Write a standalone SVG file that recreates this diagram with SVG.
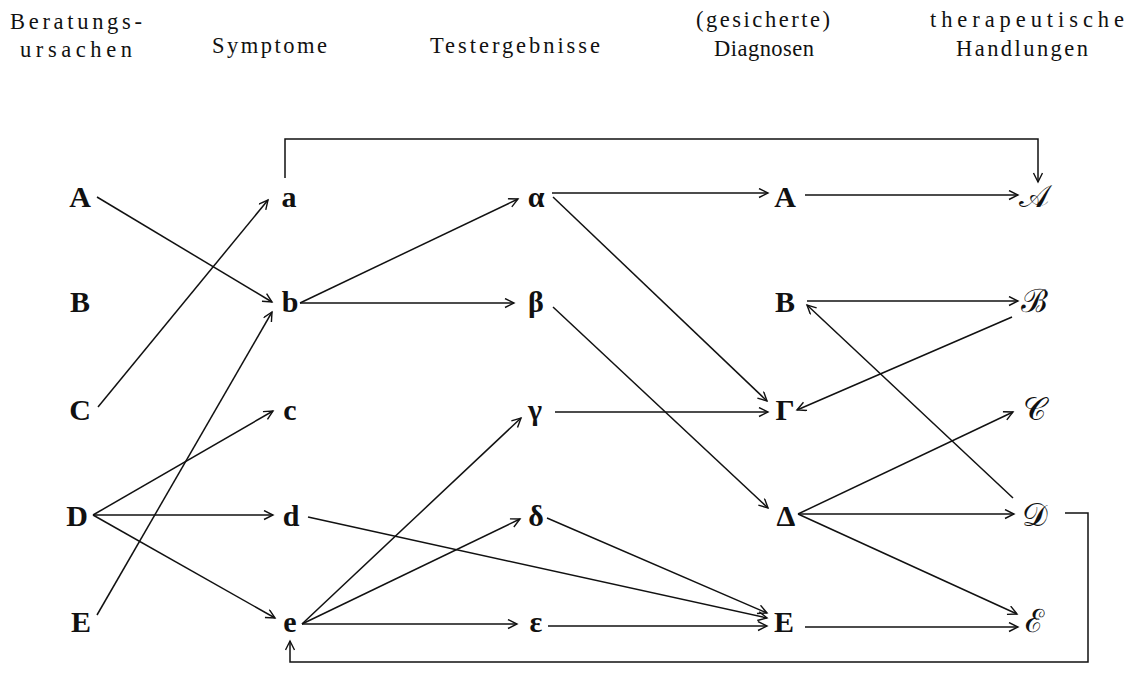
<svg xmlns="http://www.w3.org/2000/svg" width="1136" height="690" viewBox="0 0 1136 690">
<style>
.hd{font-family:"Liberation Serif","Times New Roman",serif;font-size:22.5px;fill:#111}
.nd{font-family:"Liberation Serif","Times New Roman",serif;font-size:30px;font-weight:bold;fill:#111;text-anchor:middle}
.sc{font-family:"DejaVu Serif","Liberation Serif",serif;font-size:32px;fill:#111;text-anchor:middle}
.ln{fill:none;stroke:#111;stroke-width:1.5}
</style>
<defs>
<marker id="ah" markerUnits="userSpaceOnUse" markerWidth="12" markerHeight="12" refX="10" refY="5" orient="auto">
<path d="M1,0.5 L10,5 L1,9.5" fill="none" stroke="#111" stroke-width="1.4"/>
</marker>
</defs>
<rect width="1136" height="690" fill="#fff"/>
<g id="headers">
<text class="hd" x="10" y="29" textLength="132" lengthAdjust="spacing">Beratungs-</text>
<text class="hd" x="20" y="57" textLength="112" lengthAdjust="spacing">ursachen</text>
<text class="hd" x="212" y="53" textLength="115" lengthAdjust="spacing">Symptome</text>
<text class="hd" x="430" y="53" textLength="170" lengthAdjust="spacing">Testergebnisse</text>
<text class="hd" x="696" y="27" textLength="134" lengthAdjust="spacing">(gesicherte)</text>
<text class="hd" x="714" y="56" textLength="100" lengthAdjust="spacing">Diagnosen</text>
<text class="hd" x="930" y="27" textLength="194" lengthAdjust="spacing">therapeutische</text>
<text class="hd" x="956" y="56" textLength="132" lengthAdjust="spacing">Handlungen</text>
</g>
<g id="n-A1"><text class="nd" x="80" y="207">A</text></g>
<g id="n-B1"><text class="nd" x="80" y="312">B</text></g>
<g id="n-C1"><text class="nd" x="80" y="420">C</text></g>
<g id="n-D1"><text class="nd" x="77" y="526">D</text></g>
<g id="n-E1"><text class="nd" x="81" y="632">E</text></g>
<g id="n-a"><text class="nd" x="289" y="207">a</text></g>
<g id="n-b"><text class="nd" x="290" y="312">b</text></g>
<g id="n-c"><text class="nd" x="290" y="420">c</text></g>
<g id="n-d"><text class="nd" x="291" y="526">d</text></g>
<g id="n-e"><text class="nd" x="290" y="632">e</text></g>
<g id="n-alpha"><text class="nd" x="536" y="207">α</text></g>
<g id="n-beta"><text class="nd" x="536" y="312">β</text></g>
<g id="n-gamma"><text class="nd" x="535" y="420">γ</text></g>
<g id="n-delta"><text class="nd" x="536" y="526">δ</text></g>
<g id="n-epsilon"><text class="nd" x="536" y="632">ε</text></g>
<g id="n-A4"><text class="nd" x="785" y="207">A</text></g>
<g id="n-B4"><text class="nd" x="785" y="312">B</text></g>
<g id="n-Gamma"><text class="nd" x="785" y="420">Γ</text></g>
<g id="n-Delta"><text class="nd" x="786" y="526">Δ</text></g>
<g id="n-E4"><text class="nd" x="784" y="632">E</text></g>
<g id="n-A5"><text class="sc" x="1034" y="207">𝒜</text></g>
<g id="n-B5"><text class="sc" x="1034" y="312">ℬ</text></g>
<g id="n-C5"><text class="sc" x="1034" y="420">𝒞</text></g>
<g id="n-D5"><text class="sc" x="1035" y="526">𝒟</text></g>
<g id="n-E5"><text class="sc" x="1034" y="632">ℰ</text></g>
<g id="connectors" class="ln">
<line x1="97" y1="197" x2="272" y2="302" marker-end="url(#ah)"/>
<line x1="98" y1="407" x2="268" y2="200" marker-end="url(#ah)"/>
<line x1="93" y1="515" x2="273" y2="411" marker-end="url(#ah)"/>
<line x1="93" y1="515" x2="273" y2="515" marker-end="url(#ah)"/>
<line x1="93" y1="515" x2="275" y2="618" marker-end="url(#ah)"/>
<line x1="97" y1="615" x2="272" y2="312" marker-end="url(#ah)"/>
<line x1="300" y1="303" x2="518" y2="199" marker-end="url(#ah)"/>
<line x1="300" y1="303" x2="514" y2="303" marker-end="url(#ah)"/>
<line x1="302" y1="624" x2="521" y2="418" marker-end="url(#ah)"/>
<line x1="302" y1="624" x2="520" y2="519" marker-end="url(#ah)"/>
<line x1="302" y1="624" x2="517" y2="624" marker-end="url(#ah)"/>
<line x1="308" y1="517" x2="767" y2="618" marker-end="url(#ah)"/>
<line x1="547" y1="518" x2="767" y2="613" marker-end="url(#ah)"/>
<line x1="548" y1="626" x2="767" y2="626" marker-end="url(#ah)"/>
<line x1="552" y1="193" x2="768" y2="193" marker-end="url(#ah)"/>
<line x1="553" y1="197" x2="767" y2="401" marker-end="url(#ah)"/>
<line x1="553" y1="307" x2="768" y2="508" marker-end="url(#ah)"/>
<line x1="555" y1="412" x2="768" y2="412" marker-end="url(#ah)"/>
<line x1="805" y1="195" x2="1018" y2="195" marker-end="url(#ah)"/>
<line x1="807" y1="301" x2="1018" y2="301" marker-end="url(#ah)"/>
<line x1="1012" y1="317" x2="797" y2="410" marker-end="url(#ah)"/>
<line x1="1013" y1="498" x2="807" y2="305" marker-end="url(#ah)"/>
<line x1="798" y1="514" x2="1013" y2="412" marker-end="url(#ah)"/>
<line x1="798" y1="514" x2="1014" y2="514" marker-end="url(#ah)"/>
<line x1="798" y1="514" x2="1017" y2="614" marker-end="url(#ah)"/>
<line x1="805" y1="627" x2="1018" y2="627" marker-end="url(#ah)"/>
<polyline points="285,178 285,139 1038,139 1038,182" marker-end="url(#ah)"/>
<polyline points="1065,513 1088,513 1088,662 290,662 290,641" marker-end="url(#ah)"/>
</g>
</svg>
